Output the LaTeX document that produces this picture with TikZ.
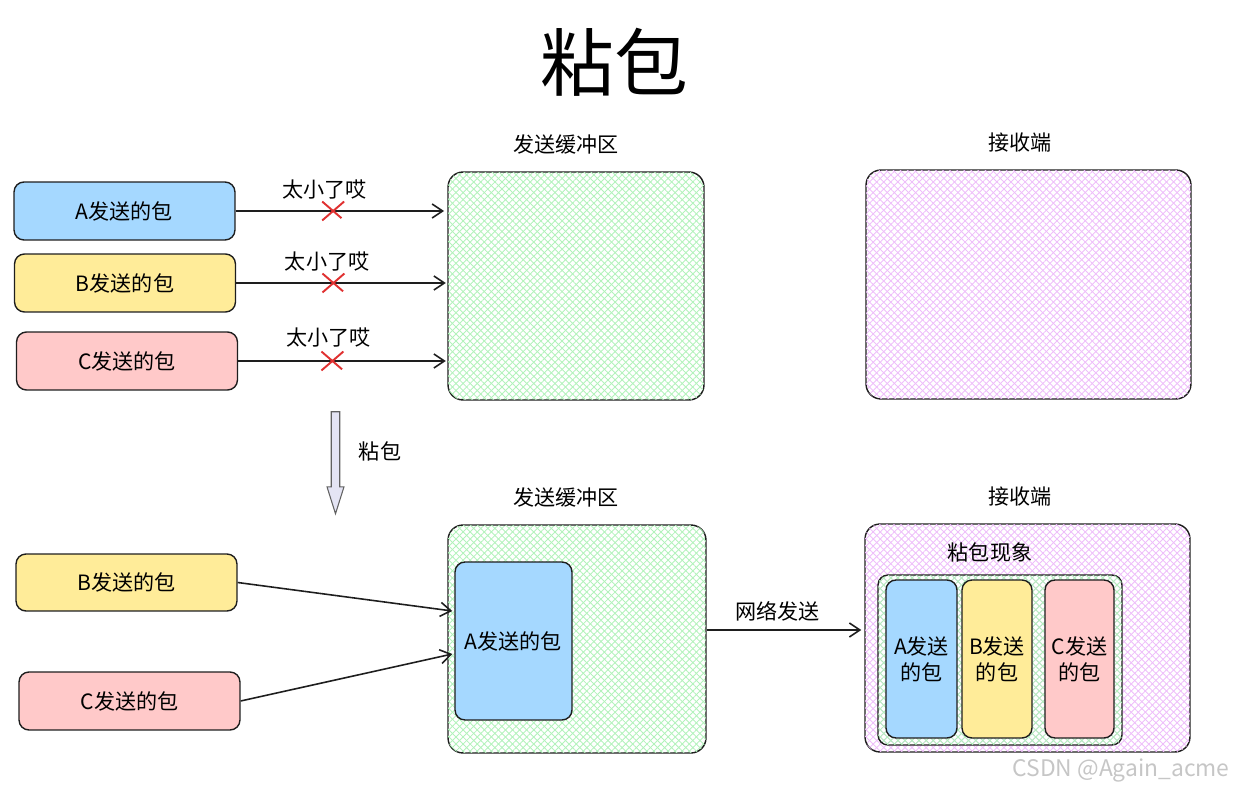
\documentclass[tikz,border=0pt]{standalone}
\usepackage{fontspec}
\setmainfont{Noto Sans CJK SC}
\usetikzlibrary{shapes.misc, shapes.arrows, arrows.meta, patterns.meta, calc}
\definecolor{ink}{HTML}{1E1E1E}
\definecolor{pktblue}{HTML}{A5D8FF}
\definecolor{pktyellow}{HTML}{FFEC99}
\definecolor{pktred}{HTML}{FFC9C9}
\definecolor{hatchgreen}{HTML}{B2F2BB}
\definecolor{hatchpurple}{HTML}{EEBEFA}
\definecolor{crossred}{HTML}{E03131}
\definecolor{arrowlav}{HTML}{E4E4F4}

\begin{document}
\begin{tikzpicture}[x=0.02cm, y=-0.02cm, font=\fontsize{12}{14.8}\selectfont]
%Declaration of styles
	\tikzstyle{pkt} = [rectangle, rounded corners=0.2cm, draw=ink, line width=0.8pt, minimum width=4.42cm, minimum height=1.16cm, inner sep=0pt, align=center] %style for the packets
	\tikzstyle{buf} = [rectangle, rounded corners=0.3cm, draw=ink, line width=0.8pt, inner sep=0pt] %style for the buffers
	\tikzstyle{greenhatch} = [pattern={Lines[angle=45,distance=0.1cm,line width=0.5pt]}, pattern color=hatchgreen, postaction={pattern={Lines[angle=-45,distance=0.1cm,line width=0.5pt]}, pattern color=hatchgreen}] %green crosshatch
	\tikzstyle{purplehatch} = [pattern={Lines[angle=45,distance=0.1cm,line width=0.5pt]}, pattern color=hatchpurple, postaction={pattern={Lines[angle=-45,distance=0.1cm,line width=0.5pt]}, pattern color=hatchpurple}] %purple crosshatch
	\tikzstyle{arr} = [draw=ink, line width=0.9pt, -{Straight Barb[length=6pt,width=8pt]}] %style for the connectors
	\tikzstyle{xmark} = [cross out, draw=crossred, line width=1.1pt, minimum width=0.4cm, minimum height=0.34cm, inner sep=0pt] %red cross
	\tikzstyle{sarr} = [single arrow, draw=ink!70, fill=arrowlav, line width=0.6pt, minimum height=2.04cm, minimum width=0.34cm, single arrow head extend=0.07cm, single arrow tip angle=35, inner sep=0.06cm, shape border rotate=270] %down arrow
	\useasboundingbox (0,0) rectangle (1234,790);
%Title
	\node (title) at (614,62) {\fontsize{42}{48}\selectfont 粘包};
%Upper part, before
	\node [pkt, fill=pktblue] (pa1) at (124.5,211) {A发送的包};
	\node [pkt, fill=pktyellow] (pb1) at (125,283) {B发送的包};
	\node [pkt, fill=pktred] (pc1) at (127,361) {C发送的包};
	\node [buf, greenhatch, minimum width=5.12cm, minimum height=4.56cm] (buf1) at (576,286) {};
	\node (lbuf1) at (566,144) {发送缓冲区};
	\node [buf, purplehatch, minimum width=6.5cm, minimum height=4.58cm] (rcv1) at (1028.5,284.5) {};
	\node (lrcv1) at (1020,143) {接收端};
	\draw [arr, shorten >=2pt] (pa1.east) -- (pa1.east -| buf1.west) node [pos=0.42, above=3pt] (ta) {太小了哎} node [pos=0.46, xmark] (xa) {};
	\draw [arr, shorten >=1pt] (pb1.east) -- (pb1.east -| buf1.west) node [pos=0.43, above=3pt] (tb) {太小了哎} node [pos=0.46, xmark] (xb) {};
	\draw [arr, shorten >=1pt] (pc1.east) -- (pc1.east -| buf1.west) node [pos=0.43, above=4pt] (tc) {太小了哎} node [pos=0.45, xmark] (xc) {};
%Sticking
	\node [sarr] (down) at (335.5,456) {};
	\node (ldown) at (380,451) {粘包};
%Lower part, after
	\node [pkt, fill=pktyellow, minimum height=1.14cm] (pb2) at (126.5,582.5) {B发送的包};
	\node [pkt, fill=pktred] (pc2) at (129.5,701) {C发送的包};
	\node [buf, greenhatch, minimum width=5.16cm, minimum height=4.56cm] (buf2) at (577,639) {};
	\node (lbuf2) at (566,497) {发送缓冲区};
	\node [pkt, fill=pktblue, minimum width=2.34cm, minimum height=3.16cm] (ia) at (513.5,641) {A发送的包};
	\draw [arr] (pb2.east) -- ($(ia.west)+(-2,-30)$);
	\draw [arr] (pc2.east) -- ($(ia.west)+(-2,13)$);
	\node [buf, purplehatch, minimum width=6.5cm, minimum height=4.56cm] (rcv2) at (1027.5,638) {};
	\node (lrcv2) at (1020,497) {接收端};
	\draw [arr] ($(buf2.east)+(0,-9)$) -- ($(rcv2.west)+(-3,-8)$) node [pos=0.46, above=1pt] (tnet) {网络发送};
	\node (lstick) at (990,552) {粘包现象};
	\node [buf, rounded corners=0.2cm, greenhatch, minimum width=4.88cm, minimum height=3.4cm] (stack) at (1000,660) {};
	\node [pkt, fill=pktblue, minimum width=1.42cm, minimum height=3.16cm] (ra) at (921.5,659) {A发送\\的包};
	\node [pkt, fill=pktyellow, minimum width=1.40cm, minimum height=3.16cm] (rb) at (997,659) {B发送\\的包};
	\node [pkt, fill=pktred, minimum width=1.38cm, minimum height=3.16cm] (rc) at (1079.5,659) {C发送\\的包};
	\node [text=gray!45, font=\fontsize{13}{15}\selectfont] (mark) at (1121,770) {CSDN @Again\_acme};
\end{tikzpicture}
\end{document}
